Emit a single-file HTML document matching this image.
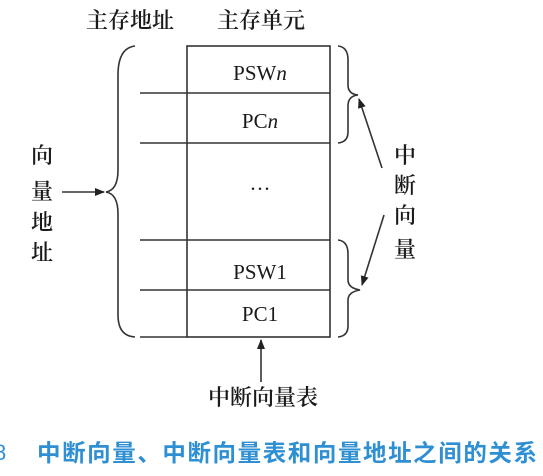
<!DOCTYPE html>
<html><head><meta charset="utf-8"><style>
html,body{margin:0;padding:0;background:#fff;}
svg{display:block;}
.s{font-family:"Liberation Serif","Noto Serif CJK SC",serif;fill:#1a1a1a;}
.c{font-family:"Liberation Serif","Noto Serif CJK SC",serif;fill:#1a1a1a;font-size:22px;font-weight:600;}
</style></head><body>
<svg width="543" height="476" viewBox="0 0 543 476" xmlns="http://www.w3.org/2000/svg">
<defs><marker id="a" markerWidth="10" markerHeight="8" refX="9" refY="4" orient="auto" markerUnits="userSpaceOnUse"><path d="M0,0 L10,4 L0,8 Z" fill="#222"/></marker></defs>
<g stroke="#333" stroke-width="1.6" fill="none">
<rect x="187" y="46" width="143" height="291"/>
<line x1="140" y1="93" x2="330" y2="93"/>
<line x1="140" y1="143" x2="330" y2="143"/>
<line x1="140" y1="240" x2="330" y2="240"/>
<line x1="140" y1="290" x2="330" y2="290"/>
<line x1="140" y1="337" x2="187" y2="337"/>
<path d="M135,46 Q118,48 118,75 L118,170 Q118,190 106,192 Q118,194 118,214 L118,315 Q118,336 135,337"/>
<path d="M338,46 Q348,47 348,60 L348,85 Q348,94 358,95 Q348,96 348,106 L348,132 Q348,142 338,143"/>
<path d="M338,240 Q348,241 348,254 L348,280 Q348,288 360,290 Q348,292 348,300 L348,326 Q348,336 338,337"/>
<line x1="62" y1="192" x2="104" y2="192" marker-end="url(#a)"/>
<line x1="382" y1="168" x2="359" y2="99" marker-end="url(#a)"/>
<line x1="384" y1="215" x2="362" y2="285" marker-end="url(#a)"/>
<line x1="261" y1="382" x2="261" y2="340" marker-end="url(#a)"/>
</g>
<g class="c" text-anchor="middle">
<text x="130" y="28">主存地址</text>
<text x="261" y="28">主存单元</text>
<text x="42" y="163">向</text>
<text x="42" y="199">量</text>
<text x="42" y="230">地</text>
<text x="42" y="260">址</text>
<text x="405" y="163">中</text>
<text x="405" y="193">断</text>
<text x="405" y="223">向</text>
<text x="405" y="257">量</text>
<text x="263" y="405">中断向量表</text>
</g>
<g class="s" font-size="21" text-anchor="middle">
<text x="260" y="80">PSW<tspan font-style="italic">n</tspan></text>
<text x="260" y="128">PC<tspan font-style="italic">n</tspan></text>
<text x="260" y="196">···</text>
<text x="260" y="279">PSW1</text>
<text x="260" y="321">PC1</text>
</g>
<text x="-6" y="460" font-family="Liberation Sans,sans-serif" font-size="22" fill="#2f8fd3">8</text>
<text x="37" y="461" font-family="Liberation Sans,'Noto Sans CJK SC',sans-serif" font-size="23.5" font-weight="bold" fill="#2f8fd3" textLength="500">中断向量、中断向量表和向量地址之间的关系</text>
</svg>
</body></html>
